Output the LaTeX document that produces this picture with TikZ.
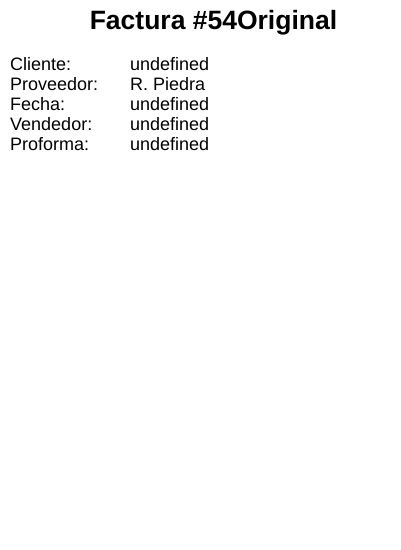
\documentclass[tikz,border=0pt]{standalone}
\usepackage{fontspec}
\setmainfont{Liberation Sans}
\begin{document}
\begin{tikzpicture}[x=1pt,y=-1pt,
  lbl/.style={anchor=base west,inner sep=0pt,font=\fontsize{18}{20}\selectfont},
  ttl/.style={anchor=base,inner sep=0pt,font=\fontsize{26.5}{30}\selectfont\bfseries}]
\useasboundingbox[fill=white] (0,0) rectangle (400,550);
\node[ttl] (title) at (213.5,29) {Factura \#54Original};
\node[lbl] (k1) at (10,70.5) {Cliente:};
\node[lbl] (v1) at (130,70.5) {undefined};
\node[lbl] (k2) at (10,90.5) {Proveedor:};
\node[lbl] (v2) at (130,90.5) {R. Piedra};
\node[lbl] (k3) at (10,110.5) {Fecha:};
\node[lbl] (v3) at (130,110.5) {undefined};
\node[lbl] (k4) at (10,130.5) {Vendedor:};
\node[lbl] (v4) at (130,130.5) {undefined};
\node[lbl] (k5) at (10,150.5) {Proforma:};
\node[lbl] (v5) at (130,150.5) {undefined};
\end{tikzpicture}
\end{document}
